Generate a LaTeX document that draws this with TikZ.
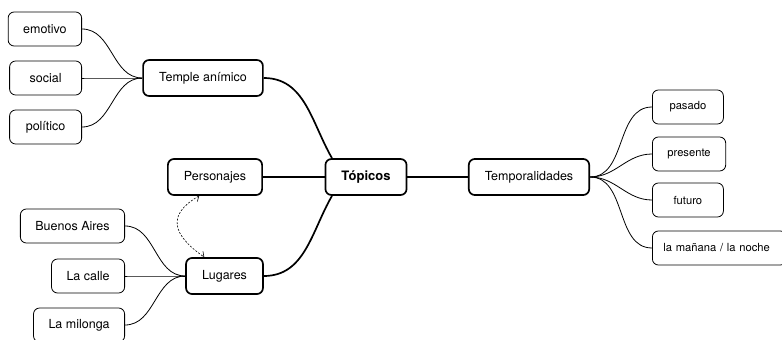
\documentclass[tikz,border=0pt]{standalone}
\usepackage{fontspec}
\setmainfont{TeX Gyre Heros}
\usepackage{tikz}
\usetikzlibrary{arrows.meta}

\begin{document}
\begin{tikzpicture}[x=1pt, y=-1pt, font=\fontsize{12.5}{15}\selectfont,
    leaf/.style={draw, rounded corners=6pt, line width=0.8pt, minimum width=72pt, minimum height=34pt, inner xsep=15pt},
    lateleaf/.style={leaf, font=\fontsize{11.2}{13}\selectfont, minimum width=71pt},
    topic/.style={draw, rounded corners=6pt, line width=1.7pt, minimum height=36pt, inner xsep=16pt},
    branch/.style={line width=0.8pt},
    trunk/.style={line width=1.7pt},
    link/.style={line width=0.6pt, dash pattern=on 2pt off 1.5pt, {Straight Barb[length=4pt]}-{Straight Barb[length=4pt]}}]
    \useasboundingbox (0,0) rectangle (782,340);

    % draw main topics
    \node[topic, font=\fontsize{13}{15}\selectfont\bfseries] (topicos) at (366,177) {Tópicos};
    \node[topic] (temple) at (203,78) {Temple anímico};
    \node[topic] (personajes) at (215,177) {Personajes};
    \node[topic] (lugares) at (224.5,276) {Lugares};
    \node[topic] (temporal) at (529,177) {Temporalidades};

    % draw main connectors
    \draw[trunk] (temple.east) to[out=0, in=120] (topicos.151);
    \draw[trunk] (personajes.east) -- (topicos.west);
    \draw[trunk] (lugares.east) to[out=0, in=240] (topicos.209);
    \draw[trunk] (topicos.east) -- (temporal.west);

    % draw leaves of Temple animico
    \foreach \n/\t/\y in {emotivo/emotivo/29, social/social/78, politico/político/127} {
      \node[leaf, anchor=east] (\n) at (82,\y) {\t};
      \draw[branch] (\n.east) to[out=0, in=180] (temple.west);
    }

    % draw leaves of Lugares
    \foreach \n/\t/\y in {buenos/Buenos Aires/226, calle/La calle/276, milonga/La milonga/325} {
      \node[leaf, anchor=east] (\n) at (125,\y) {\t};
      \draw[branch] (\n.east) to[out=0, in=180] (lugares.west);
    }

    % draw leaves of Temporalidades
    \foreach \n/\t/\y in {pasado/pasado/107, presente/presente/154, futuro/futuro/200} {
      \node[lateleaf, anchor=west] (\n) at (652,\y) {\t};
      \draw[branch] (temporal.east) to[out=0, in=180] (\n.west);
    }
    \node[lateleaf, anchor=west, inner xsep=11pt, text width=112pt, align=left] (manana) at (652,248) {la mañana / la noche};
    \draw[branch] (temporal.east) to[out=0, in=180] (manana.west);

    % draw dashed link
    \draw[link] (personajes.230) to[out=210, in=145, looseness=1.6] (lugares.137);
  \end{tikzpicture}
\end{document}
